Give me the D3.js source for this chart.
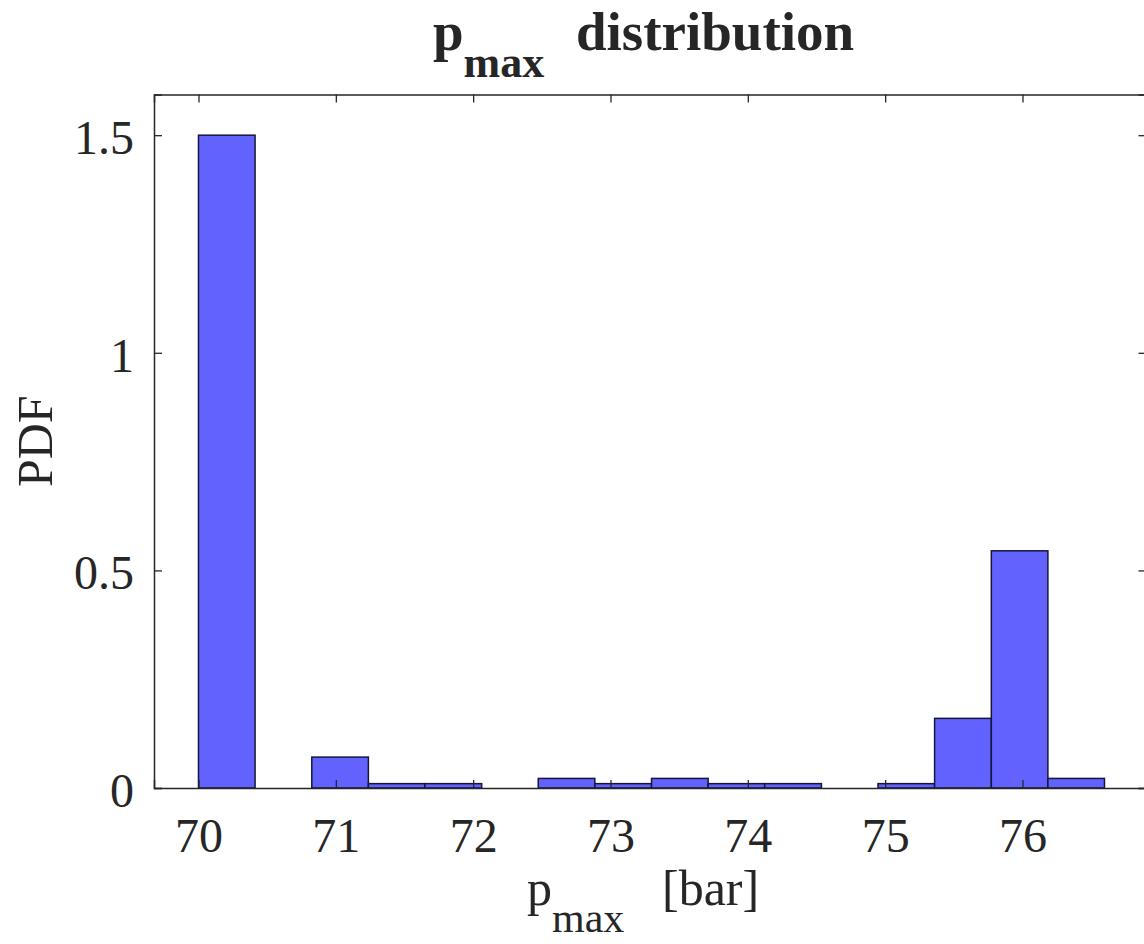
<!DOCTYPE html>
<html>
<head>
<meta charset="utf-8">
<script src="https://cdn.jsdelivr.net/npm/d3@7"></script>
<style>
  html, body { margin: 0; padding: 0; background: #fff; }
  svg { display: block; }
  text { font-family: "Liberation Serif", "DejaVu Serif", serif; fill: #262626; }
</style>
</head>
<body>
<svg id="chart"></svg>
<script>
// histogram bin edges (bar) and pdf heights
let binEdges = [70, 70.412, 70.825, 71.237, 71.649, 72.062, 72.474, 72.886, 73.299,
                73.711, 74.123, 74.536, 74.948, 75.36, 75.773, 76.185, 76.597]
let pdfValues = [1.5, 0, 0.071, 0.01, 0.01, 0, 0.022, 0.01, 0.022,
                 0.01, 0.01, 0, 0.01, 0.16, 0.545, 0.022]

let xTicks = [70, 71, 72, 73, 74, 75, 76]
let yTicks = [0, 0.5, 1, 1.5]

// dimensions
let width = 1144
let height = 944
let plotLeft = 154
let plotRight = 1146.5
let plotTop = 94.5
let plotBottom = 788
let tickLen = 8

let svg = d3.select('#chart')
    .attr('width', width)
    .attr('height', height)

let xScale = d3.scaleLinear()
    .domain([69.676, 76.903])
    .range([plotLeft, plotRight])

let yScale = d3.scaleLinear()
    .domain([0, 1.5935])
    .range([plotBottom, plotTop])

let bins = pdfValues.map((v, i) => ({ x0: binEdges[i], x1: binEdges[i + 1], v: v }))

// bars
svg.append('g')
    .selectAll('rect')
    .data(bins)
    .enter()
    .append('rect')
    .attr('x', d => xScale(d.x0))
    .attr('width', d => xScale(d.x1) - xScale(d.x0))
    .attr('y', d => yScale(d.v))
    .attr('height', d => yScale(0) - yScale(d.v))
    .attr('fill', d => d.v > 0 ? 'rgb(98,98,255)' : 'none')
    .attr('stroke', '#16163a')
    .attr('stroke-width', 1.5)

// axes: ticks pointing inward on all four sides
let axisColor = '#262626'

let xAxis = d3.axisBottom(xScale)
    .tickValues(xTicks)
    .tickSize(-tickLen)
    .tickPadding(30)
    .tickFormat(d3.format('d'))

let yAxis = d3.axisLeft(yScale)
    .tickValues(yTicks)
    .tickSize(-tickLen)
    .tickPadding(20)
    .tickFormat(d => d === 0 ? '0' : d3.format('')(d))

let gx = svg.append('g')
    .attr('transform', 'translate(0,' + plotBottom + ')')
    .call(xAxis)

let gy = svg.append('g')
    .attr('transform', 'translate(' + plotLeft + ',0)')
    .call(yAxis)

let gxTop = svg.append('g')
    .attr('transform', 'translate(0,' + plotTop + ')')
    .call(d3.axisTop(xScale).tickValues(xTicks).tickSize(-tickLen).tickFormat(''))

let gyRight = svg.append('g')
    .attr('transform', 'translate(' + plotRight + ',0)')
    .call(d3.axisRight(yScale).tickValues(yTicks).tickSize(-tickLen).tickFormat(''))

;[gx, gy, gxTop, gyRight].forEach(g => {
    g.select('.domain').attr('stroke', axisColor).attr('stroke-width', 1.5)
    g.selectAll('.tick line').attr('stroke', axisColor).attr('stroke-width', 1.3)
    g.selectAll('.tick text')
        .attr('fill', axisColor)
        .style('font-family', '"Liberation Serif", serif')
        .style('font-size', '48px')
})
gy.selectAll('.tick text').attr('dy', '0.38em')

// title
let title = svg.append('text')
    .attr('x', 433)
    .attr('y', 50)
    .style('font-size', '55px')
    .style('font-weight', 'bold')
title.append('tspan').text('p')
title.append('tspan').attr('dy', 27).style('font-size', '44px').text('max')
title.append('tspan').attr('dy', -27).attr('x', 576).text('distribution')

// x label
let xLabel = svg.append('text')
    .attr('x', 527)
    .attr('y', 905)
    .style('font-size', '50px')
xLabel.append('tspan').text('p')
xLabel.append('tspan').attr('dy', 27).style('font-size', '42px').text('max')
xLabel.append('tspan').attr('dy', -27).attr('x', 662).text('[bar]')

// y label
svg.append('text')
    .attr('transform', 'translate(52,' + (plotTop + plotBottom) / 2 + ') rotate(-90)')
    .attr('text-anchor', 'middle')
    .style('font-size', '50px')
    .text('PDF')
</script>
</body>
</html>
